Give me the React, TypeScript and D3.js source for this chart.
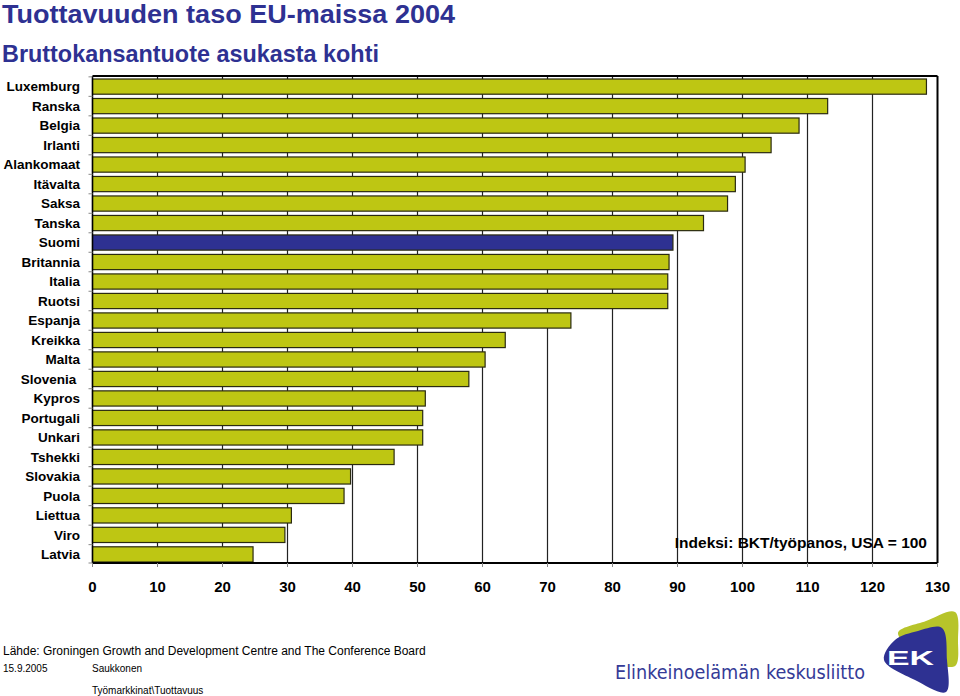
import React from "react";
import * as d3 from "d3";

const countries = [
  "Luxemburg", "Ranska", "Belgia", "Irlanti", "Alankomaat", "Itävalta", "Saksa", "Tanska",
  "Suomi", "Britannia", "Italia", "Ruotsi", "Espanja", "Kreikka", "Malta", "Slovenia ",
  "Kypros", "Portugali", "Unkari", "Tshekki", "Slovakia", "Puola", "Liettua", "Viro", "Latvia",
];
const values = [
  128.3, 113.1, 108.7, 104.4, 100.4, 98.9, 97.7, 94.0,
  89.3, 88.7, 88.5, 88.5, 73.6, 63.5, 60.4, 57.9,
  51.2, 50.8, 50.8, 46.4, 39.7, 38.7, 30.6, 29.6, 24.7,
];
const highlighted = ["Suomi"];
const xTickValues = [0, 10, 20, 30, 40, 50, 60, 70, 80, 90, 100, 110, 120, 130];

const title = "Tuottavuuden taso EU-maissa 2004";
const subtitle = "Bruttokansantuote asukasta kohti";
const note = "Indeksi: BKT/työpanos, USA = 100";
const source = "Lähde: Groningen Growth and Development Centre and The Conference Board";
const dateText = "15.9.2005";
const author = "Saukkonen";
const pathText = "Työmarkkinat\\Tuottavuus";
const orgName = "Elinkeinoelämän keskusliitto";

const W = 960;
const H = 696;
const NAVY = "#2E3192";
const GREEN = "#BEC613";
const FONT = "'Liberation Sans', Arial, Helvetica, sans-serif";

export default function App() {
  const x = d3.scaleLinear().domain([0, 130]).range([92.5, 937.5]);
  const y = d3.scaleBand<string>().domain(countries).range([79, 562]).paddingInner(0.22).paddingOuter(0);
  const frameTop = 76;
  const frameBottom = 563;
  const step = y.step();
  const bw = y.bandwidth();

  const greenBlob = d3.line().curve(d3.curveCatmullRomClosed.alpha(0.5))([
    [898, 633], [926, 621], [955, 612], [958, 640], [955, 666], [930, 660],
  ] as [number, number][]);
  const navyBlob = d3.line().curve(d3.curveCatmullRomClosed.alpha(0.5))([
    [884, 660], [895, 640], [918, 631], [942, 628], [947, 660], [946, 692], [915, 680],
  ] as [number, number][]);

  return (
    <svg width={W} height={H} style={{ position: "absolute", left: 0, top: 0, background: "#fff" }} fontFamily={FONT}>
      <rect width={W} height={H} fill="#fff" />
      <text x={2} y={23} fontSize={25} fontWeight="bold" fill={NAVY} textLength={453} lengthAdjust="spacingAndGlyphs">{title}</text>
      <text x={2} y={62} fontSize={23.4} fontWeight="bold" fill={NAVY}>{subtitle}</text>

      {/* gridlines */}
      {xTickValues.filter((v) => v > 0 && v < 130).map((v) => (
        <line key={"g" + v} x1={x(v)} x2={x(v)} y1={frameTop} y2={frameBottom} stroke="#222" strokeWidth={1.2} />
      ))}

      {/* bars */}
      {countries.map((c, i) => (
        <rect
          key={c}
          x={x(0)}
          y={y(c)}
          width={x(values[i]) - x(0)}
          height={bw}
          fill={highlighted.includes(c) ? NAVY : GREEN}
          stroke="#2a2a10"
          strokeWidth={1.2}
        />
      ))}

      {/* frame */}
      <line x1={x(0)} x2={x(130)} y1={frameTop} y2={frameTop} stroke="#000" strokeWidth={2} />
      <line x1={x(130)} x2={x(130)} y1={frameTop} y2={frameBottom} stroke="#000" strokeWidth={2} />
      <line x1={x(0)} x2={x(0)} y1={frameTop} y2={frameBottom} stroke="#000" strokeWidth={1.5} />
      <line x1={x(0)} x2={x(130)} y1={frameBottom} y2={frameBottom} stroke="#000" strokeWidth={2} />

      {/* category ticks */}
      {countries.map((c) => {
        const yy = (y(c) as number) - (step - bw) / 2;
        return <line key={"t" + c} x1={x(0) - 4} x2={x(0)} y1={yy} y2={yy} stroke="#888" strokeWidth={1} />;
      })}
      <line x1={x(0) - 4} x2={x(0)} y1={frameBottom} y2={frameBottom} stroke="#888" strokeWidth={1} />

      {/* x ticks */}
      {xTickValues.map((v) => (
        <g key={"x" + v}>
          <line x1={x(v)} x2={x(v)} y1={frameBottom} y2={frameBottom + 4} stroke="#888" strokeWidth={1} />
          <text x={x(v)} y={592} fontSize={15} fontWeight="bold" textAnchor="middle" fill="#000">{v}</text>
        </g>
      ))}

      {/* category labels */}
      {countries.map((c) => (
        <text key={"l" + c} x={80} y={(y(c) as number) + bw / 2} dy="0.35em" fontSize={13.5} fontWeight="bold" textAnchor="end" fill="#000" style={{ whiteSpace: "pre" }}>{c}</text>
      ))}

      <text x={927} y={548} fontSize={15.5} fontWeight="bold" textAnchor="end" fill="#000">{note}</text>

      {/* footer */}
      <text x={3} y={655} fontSize={12} fill="#000">{source}</text>
      <text x={3} y={672} fontSize={10} fill="#000">{dateText}</text>
      <text x={92} y={672} fontSize={10} fill="#000">{author}</text>
      <text x={92} y={694} fontSize={10} fill="#000">{pathText}</text>

      {/* logo */}
      <text x={615} y={679} fontSize={19} fill="#353B97" fontFamily="'DejaVu Sans', sans-serif" textLength={250} lengthAdjust="spacingAndGlyphs">{orgName}</text>
      <path d={greenBlob || ""} fill="#B7C42A" />
      <path d={navyBlob || ""} fill={NAVY} />
      <text x={887} y={665} fontSize={20} fontWeight="bold" fill="#fff" textLength={47} lengthAdjust="spacingAndGlyphs">EK</text>
    </svg>
  );
}
